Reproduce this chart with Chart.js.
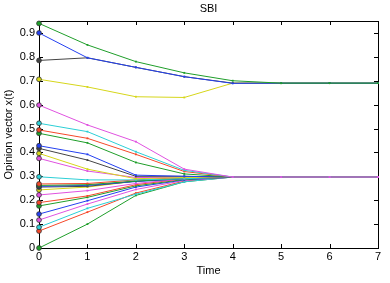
<!DOCTYPE html>
<html>
<head>
<meta charset="utf-8">
<script src="https://cdn.jsdelivr.net/npm/chart.js@4/dist/chart.umd.min.js"></script>
<style>
  html, body { margin: 0; padding: 0; background: #fff; }
  #wrap { width: 390px; height: 283px; }
</style>
</head>
<body>
<div id="wrap"><canvas id="chart" width="390" height="283"></canvas></div>
<script>
// time steps and axis ticks
const times = [0, 1, 2, 3, 4, 5, 6, 7];
const xTicks = [0, 1, 2, 3, 4, 5, 6, 7];
const yTicks = [0, 0.1, 0.2, 0.3, 0.4, 0.5, 0.6, 0.7, 0.8, 0.9];

// opinion trajectories
const agent01 = [0.94, 0.85, 0.78, 0.733, 0.70, 0.69, 0.69, 0.69];
const agent02 = [0.90, 0.796, 0.756, 0.717, 0.689, 0.69, 0.69, 0.69];
const agent03 = [0.785, 0.796, 0.756, 0.717, 0.69, 0.69, 0.69, 0.69];
const agent04 = [0.706, 0.674, 0.633, 0.63, 0.69, 0.69, 0.69, 0.69];
const agent05 = [0.598, 0.515, 0.445, 0.33, 0.297, 0.297, 0.297, 0.297];
const agent06 = [0.522, 0.487, 0.403, 0.325, 0.297, 0.297, 0.297, 0.297];
const agent07 = [0.494, 0.459, 0.392, 0.32, 0.297, 0.297, 0.297, 0.297];
const agent08 = [0.48, 0.44, 0.358, 0.31, 0.297, 0.297, 0.297, 0.297];
const agent09 = [0.428, 0.392, 0.305, 0.30, 0.297, 0.297, 0.297, 0.297];
const agent10 = [0.417, 0.368, 0.30, 0.30, 0.297, 0.297, 0.297, 0.297];
const agent11 = [0.396, 0.33, 0.29, 0.295, 0.297, 0.297, 0.297, 0.297];
const agent12 = [0.375, 0.322, 0.295, 0.295, 0.297, 0.297, 0.297, 0.297];
const agent13 = [0.298, 0.285, 0.285, 0.29, 0.297, 0.297, 0.297, 0.297];
const agent14 = [0.268, 0.27, 0.285, 0.295, 0.297, 0.297, 0.297, 0.297];
const agent15 = [0.262, 0.265, 0.28, 0.292, 0.297, 0.297, 0.297, 0.297];
const agent16 = [0.258, 0.262, 0.278, 0.29, 0.297, 0.297, 0.297, 0.297];
const agent17 = [0.255, 0.258, 0.28, 0.29, 0.297, 0.297, 0.297, 0.297];
const agent18 = [0.243, 0.255, 0.28, 0.29, 0.297, 0.297, 0.297, 0.297];
const agent19 = [0.222, 0.24, 0.27, 0.29, 0.297, 0.297, 0.297, 0.297];
const agent20 = [0.19, 0.218, 0.265, 0.29, 0.297, 0.297, 0.297, 0.297];
const agent21 = [0.176, 0.212, 0.26, 0.287, 0.297, 0.297, 0.297, 0.297];
const agent22 = [0.142, 0.198, 0.255, 0.285, 0.297, 0.297, 0.297, 0.297];
const agent23 = [0.117, 0.184, 0.245, 0.283, 0.297, 0.297, 0.297, 0.297];
const agent24 = [0.087, 0.166, 0.225, 0.277, 0.297, 0.297, 0.297, 0.297];
const agent25 = [0.071, 0.15, 0.23, 0.28, 0.297, 0.297, 0.297, 0.297];
const agent26 = [0.0, 0.10, 0.22, 0.277, 0.297, 0.297, 0.297, 0.297];

const C = {
  g: "#1f9e2a", b: "#2440f0", k: "#444444", y: "#d6d61a",
  m: "#e052e0", c: "#2ccfd6", r: "#f5482a"
};

const series = [
  [agent01, C.g], [agent02, C.b], [agent03, C.k], [agent04, C.y],
  [agent05, C.m], [agent06, C.c], [agent07, C.r], [agent08, C.g],
  [agent09, C.b], [agent10, C.k], [agent11, C.y], [agent12, C.m],
  [agent13, C.c], [agent14, C.r], [agent15, C.g], [agent16, C.b],
  [agent17, C.k], [agent18, C.y], [agent19, C.m], [agent20, C.r],
  [agent21, C.g], [agent22, C.b], [agent23, C.m], [agent24, C.c],
  [agent25, C.r], [agent26, C.g]
];

const FONT = "'Liberation Sans', Arial, sans-serif";

// MATLAB-like box with inward ticks, plus the title
const boxPlugin = {
  id: "box",
  beforeDatasetsDraw(chart) {
    const { ctx, chartArea: a, scales } = chart;
    ctx.save();
    ctx.strokeStyle = "#000";
    ctx.lineWidth = 1;
    ctx.strokeRect(a.left + 0.5, a.top + 0.5, a.right - a.left, a.bottom - a.top);
    ctx.beginPath();
    xTicks.forEach((t) => {
      const x = Math.round(scales.x.getPixelForValue(t)) + 0.5;
      ctx.moveTo(x, a.bottom); ctx.lineTo(x, a.bottom - 4);
      ctx.moveTo(x, a.top); ctx.lineTo(x, a.top + 4);
    });
    yTicks.forEach((t) => {
      const y = Math.round(scales.y.getPixelForValue(t)) + 0.5;
      ctx.moveTo(a.left, y); ctx.lineTo(a.left + 4, y);
      ctx.moveTo(a.right, y); ctx.lineTo(a.right - 4, y);
    });
    ctx.stroke();
    ctx.fillStyle = "#000";
    ctx.font = "11px " + FONT;
    ctx.textAlign = "center";
    ctx.textBaseline = "middle";
    ctx.fillText("SBI", (a.left + a.right) / 2, 9);
    ctx.restore();
  }
};

new Chart(document.getElementById("chart"), {
  type: "line",
  data: {
    labels: times,
    datasets: series.map(([vals, col]) => ({
      data: vals.map((v, i) => ({ x: times[i], y: v })),
      borderColor: col,
      backgroundColor: col,
      pointBorderColor: (c) => (c.dataIndex === 0 ? "#333" : col),
      pointBorderWidth: (c) => (c.dataIndex === 0 ? 0.8 : 0),
      borderWidth: 1,
      pointRadius: (c) => (c.dataIndex === 0 ? 2.4 : 1.3),
      pointStyle: (c) => (c.dataIndex === 0 ? "circle" : "rect"),
      tension: 0,
      fill: false,
      clip: false
    }))
  },
  options: {
    responsive: false,
    animation: false,
    layout: { padding: { top: 21, right: 12, left: 0, bottom: 0 } },
    plugins: { legend: { display: false }, tooltip: { enabled: false } },
    scales: {
      x: {
        type: "linear",
        min: 0,
        max: 7,
        afterBuildTicks: (s) => { s.ticks = xTicks.map((v) => ({ value: v })); },
        afterFit: (s) => { s.height = 35; },
        grid: { display: false, drawTicks: false },
        border: { display: false },
        ticks: { color: "#000", font: { family: FONT, size: 11 }, padding: 2, maxRotation: 0 },
        title: { display: true, text: "Time", color: "#000", font: { family: FONT, size: 11 }, padding: { top: 0, bottom: 5 } }
      },
      y: {
        min: 0,
        max: 0.95,
        afterBuildTicks: (s) => { s.ticks = yTicks.map((v) => ({ value: v })); },
        afterFit: (s) => { s.width = 39; },
        grid: { display: false, drawTicks: false },
        border: { display: false },
        ticks: {
          color: "#000", font: { family: FONT, size: 11 }, padding: 4,
          callback: (v) => String(Math.round(v * 10) / 10)
        },
        title: { display: true, text: "Opinion vector x(t)", color: "#000", font: { family: FONT, size: 11 }, padding: { top: 2, bottom: 0 } }
      }
    }
  },
  plugins: [boxPlugin]
});
</script>
</body>
</html>
